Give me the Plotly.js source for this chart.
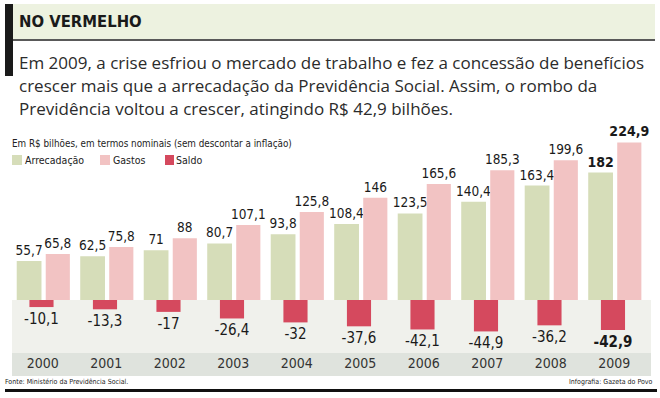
<!DOCTYPE html>
<html>
<head>
<meta charset="utf-8">
<script src="https://cdn.plot.ly/plotly-3.0.1.min.js"></script>
<style>
html,body{margin:0;padding:0;background:#fff;}
#chart{width:660px;height:398px;}
</style>
</head>
<body>
<div id="chart"></div>
<script>
// ---- data ----
const years = ['2000','2001','2002','2003','2004','2005','2006','2007','2008','2009'];
const arrecadacao = [55.7, 62.5, 71, 80.7, 93.8, 108.4, 123.5, 140.4, 163.4, 182];
const gastos = [65.8, 75.8, 88, 107.1, 125.8, 146, 165.6, 185.3, 199.6, 224.9];
const saldo = [-10.1, -13.3, -17, -26.4, -32, -37.6, -42.1, -44.9, -36.2, -42.9];
const seriesNames = ['Arrecadação', 'Gastos', 'Saldo'];
const titleText = 'NO VERMELHO';
const introLines = [
  'Em 2009, a crise esfriou o mercado de trabalho e fez a concessão de benefícios',
  'crescer mais que a arrecadação da Previdência Social. Assim, o rombo da',
  'Previdência voltou a crescer, atingindo R$ 42,9 bilhões.'
];
const unitText = 'Em R$ bilhões, em termos nominais (sem descontar a inflação)';
const sourceText = 'Fonte: Ministério da Previdência Social.';
const creditText = 'Infografia: Gazeta do Povo';

// ---- style ----
const cGreen = '#d6ddb9', cPink = '#f2c3c3', cRed = '#d5495e';
const COND = 'DejaVu Sans Condensed';
const W = 660, H = 398;
const mL = 11, mR = 14, mT = 120, mB = 45;
const pw = W - mL - mR, ph = H - mT - mB;
const X = px => (px - mL) / pw;
const Y = py => (H - mB - py) / ph;
const yMin = -75.7, yMax = 257;

const fmt = v => String(v).replace('.', ',');
const last = years.length - 1;
const topSize = years.map((_, i) => i === last ? 14 : 13.5);
const wt = years.map((_, i) => i === last ? 'bold' : 'normal');

const common = {
  type: 'bar', x: years, textposition: 'outside', cliponaxis: false,
  constraintext: 'none', hoverinfo: 'skip', showlegend: false
};

const traces = [
  Object.assign({}, common, {
    name: seriesNames[0], y: arrecadacao, text: arrecadacao.map(fmt),
    offset: -0.41, width: 0.39, marker: {color: cGreen},
    textfont: {family: COND, size: topSize, color: '#1a1a1a', weight: wt}
  }),
  Object.assign({}, common, {
    name: seriesNames[1], y: gastos, text: gastos.map(fmt),
    offset: 0.047, width: 0.38, marker: {color: cPink},
    textfont: {family: COND, size: topSize, color: '#1a1a1a', weight: wt}
  }),
  Object.assign({}, common, {
    name: seriesNames[2], y: saldo, text: saldo.map(fmt),
    offset: -0.21, width: 0.38, marker: {color: cRed},
    textfont: {family: COND, size: 15, color: '#1a1a1a', weight: wt}
  })
];

const shapes = [
  {type:'rect', xref:'paper', yref:'y', x0:X(12), x1:X(651), y0:yMin, y1:0, fillcolor:'#f0f1ec', line:{width:0}, layer:'below'},
  {type:'rect', xref:'paper', yref:'paper', x0:X(12), x1:X(651), y0:Y(376), y1:Y(353), fillcolor:'#dfe3dd', line:{width:0}, layer:'below'},
  {type:'rect', xref:'paper', yref:'paper', x0:X(13), x1:X(655), y0:Y(39), y1:Y(4), fillcolor:'#edf2e0', line:{width:0}, layer:'below'},
  {type:'rect', xref:'paper', yref:'paper', x0:X(5), x1:X(13), y0:Y(76), y1:Y(4), fillcolor:'#1a1a1a', line:{width:0}},
  {type:'line', xref:'paper', yref:'paper', x0:X(13), x1:X(655), y0:Y(40), y1:Y(40), line:{color:'#222', width:1.5}},
  {type:'rect', xref:'paper', yref:'paper', x0:X(5), x1:X(657), y0:Y(392), y1:Y(389), fillcolor:'#111', line:{width:0}},
  {type:'rect', xref:'paper', yref:'paper', x0:X(12), x1:X(22), y0:Y(165), y1:Y(155), fillcolor:cGreen, line:{width:0}},
  {type:'rect', xref:'paper', yref:'paper', x0:X(100), x1:X(110), y0:Y(165), y1:Y(155), fillcolor:cPink, line:{width:0}},
  {type:'rect', xref:'paper', yref:'paper', x0:X(165), x1:X(174), y0:Y(165), y1:Y(155), fillcolor:cRed, line:{width:0}}
];

const ann = (text, px, py, font, xanchor) => ({
  text: text, xref:'paper', yref:'paper', x: X(px), y: Y(py),
  xanchor: xanchor || 'left', yanchor: 'middle', showarrow: false, font: font
});

const cond = (size, color) => ({family:COND, size:size, color:color || '#222'});
const para = {family:'Open Sans', size:17, color:'#2b2b2b'};
const annotations = [
  ann(titleText, 17, 21, {family:COND, size:16.5, color:'#1a1a1a', weight:'bold'}),
  ann(introLines[0], 17, 63, para),
  ann(introLines[1], 17, 86, para),
  ann(introLines[2], 17, 109, para),
  ann(unitText, 10, 143, cond(9.8)),
  ann(seriesNames[0], 23, 160, cond(10.5)),
  ann(seriesNames[1], 111, 160, cond(10.5)),
  ann(seriesNames[2], 174, 160, cond(10.5)),
  ann(sourceText, 3, 382, cond(7)),
  ann(creditText, 655, 382, cond(7), 'right')
];

const layout = {
  width: W, height: H,
  margin: {l: mL, r: mR, t: mT, b: mB, pad: 0},
  paper_bgcolor: '#ffffff', plot_bgcolor: 'rgba(0,0,0,0)',
  barmode: 'overlay', showlegend: false,
  xaxis: {type:'category', showgrid:false, zeroline:false, showline:false,
          ticks:'', ticklen:0,
          tickfont:{family:COND, size:14, color:'#333'}, fixedrange:true},
  yaxis: {range:[yMin, yMax], visible:false, fixedrange:true},
  shapes: shapes,
  annotations: annotations
};

Plotly.newPlot('chart', traces, layout, {displayModeBar:false, staticPlot:true});
</script>
</body>
</html>
